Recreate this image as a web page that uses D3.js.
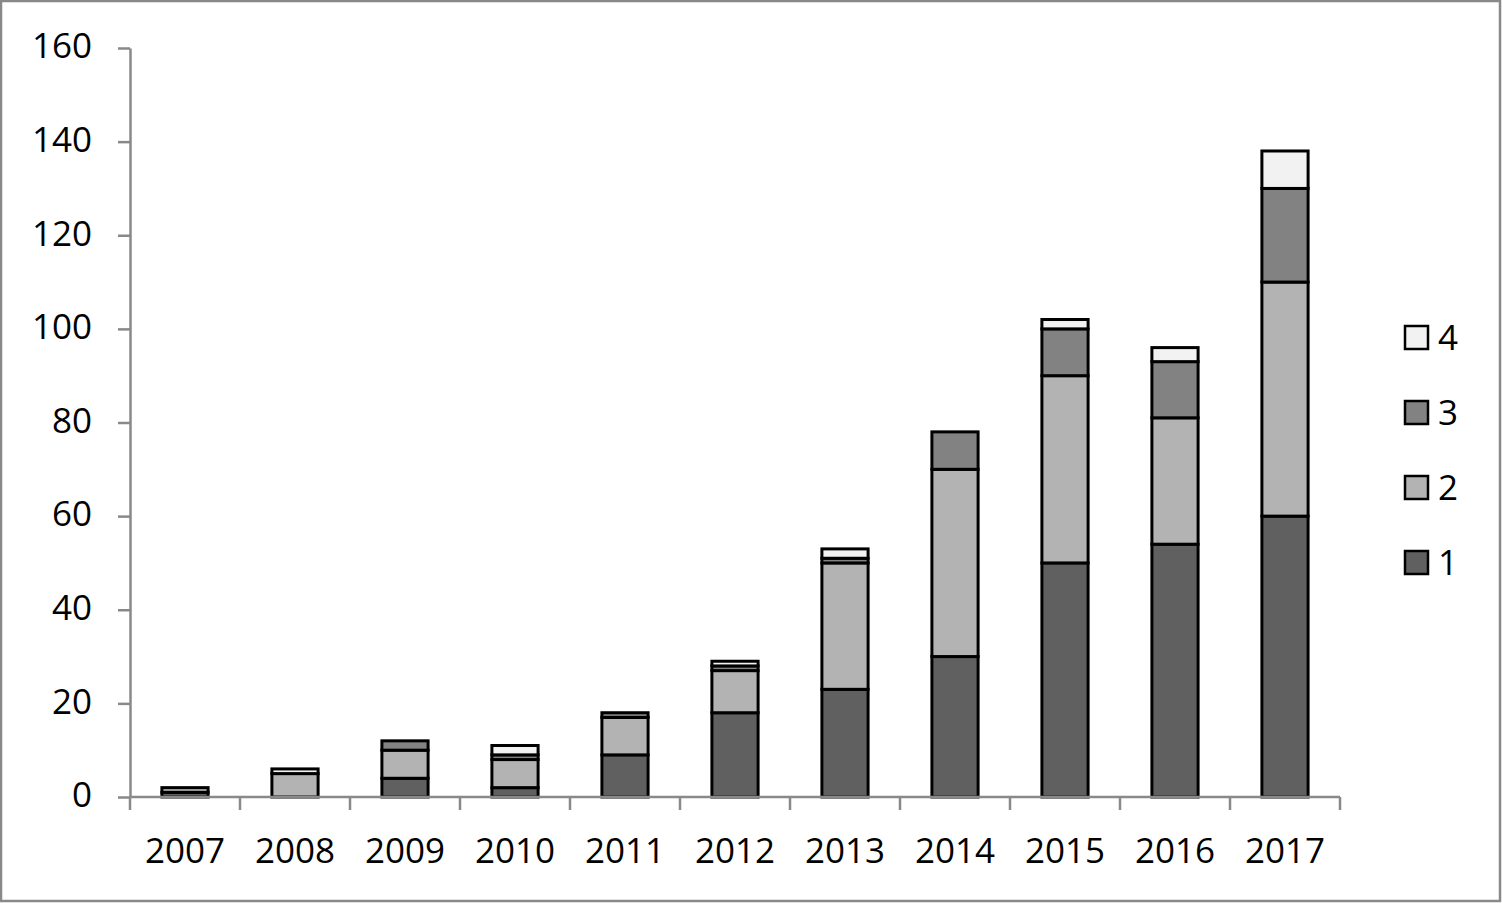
<!DOCTYPE html>
<html><head><meta charset="utf-8">
<script src="https://cdn.jsdelivr.net/npm/d3@7/dist/d3.min.js"></script>
<style>html,body{margin:0;padding:0;background:#fff;}svg{display:block;}</style>
</head><body>
<svg id="c" width="1502" height="903"></svg>
<script>
const years = ["2007","2008","2009","2010","2011","2012","2013","2014","2015","2016","2017"];
const seriesNames = ["1","2","3","4"];
const s1 = [1, 0, 4, 2, 9, 18, 23, 30, 50, 54, 60];
const s2 = [1, 5, 6, 6, 8, 9, 27, 40, 40, 27, 50];
const s3 = [0, 0, 2, 1, 1, 1, 1, 8, 10, 12, 20];
const s4 = [0, 1, 0, 2, 0, 1, 2, 0, 2, 3, 8];
const yTicks = [0, 20, 40, 60, 80, 100, 120, 140, 160];
const colors = ["#606060", "#b3b3b3", "#828282", "#f2f2f2"];

const rows = years.map((y, i) => ({year: y, "1": s1[i], "2": s2[i], "3": s3[i], "4": s4[i]}));
const stack = d3.stack().keys(seriesNames)(rows);

const svg = d3.select("#c");
const font = "'Open Sans', 'Noto Sans', sans-serif";
const axisColor = "#898989";

// outer border
svg.append("rect").attr("x", 1).attr("y", 1).attr("width", 1499).attr("height", 900)
  .attr("fill", "none").attr("stroke", axisColor).attr("stroke-width", 2.5);

const x = d3.scaleBand().domain(years).range([130, 1340]).paddingInner(0.58).paddingOuter(0.29);
const y = d3.scaleLinear().domain([0, 160]).range([797, 48]);

// bars
svg.append("g").selectAll("g").data(stack).join("g")
  .attr("fill", (d, i) => colors[i])
  .selectAll("rect").data(d => d.filter(v => v[1] - v[0] > 0)).join("rect")
  .attr("x", d => x(d.data.year))
  .attr("width", x.bandwidth())
  .attr("y", d => y(d[1]))
  .attr("height", d => y(d[0]) - y(d[1]))
  .attr("stroke", "#000").attr("stroke-width", 3);

// y axis
const ya = svg.append("g").attr("transform", "translate(130,0)")
  .call(d3.axisLeft(y).tickValues(yTicks).tickSize(12).tickPadding(26).tickSizeOuter(0));
ya.select(".domain").attr("stroke", axisColor).attr("stroke-width", 2.5);
ya.selectAll(".tick line").attr("stroke", axisColor).attr("stroke-width", 2.5);
ya.selectAll(".tick text").attr("font-family", font).attr("font-size", 35).attr("fill", "#000").attr("dy", "0.28em");

// x axis
const xTickScale = d3.scalePoint().domain(d3.range(years.length + 1)).range([130, 1340]);
const xa = svg.append("g").attr("transform", "translate(0,797)");
xa.append("line").attr("x1", 130).attr("x2", 1340).attr("stroke", axisColor).attr("stroke-width", 2.5);
xa.selectAll(".xt").data(xTickScale.domain()).join("line").attr("class", "xt")
  .attr("x1", d => xTickScale(d)).attr("x2", d => xTickScale(d))
  .attr("y1", 0).attr("y2", 13).attr("stroke", axisColor).attr("stroke-width", 2.5);
xa.selectAll(".xl").data(years).join("text").attr("class", "xl")
  .attr("x", d => x(d) + x.bandwidth() / 2).attr("y", 66)
  .attr("text-anchor", "middle").attr("font-family", font).attr("font-size", 35).attr("fill", "#000")
  .text(d => d);

// legend
const legendItems = seriesNames.map((n, i) => ({name: n, color: colors[i]})).reverse();
const lg = svg.append("g").selectAll("g").data(legendItems).join("g")
  .attr("transform", (d, i) => `translate(1405,${326 + i * 75})`);
lg.append("rect").attr("width", 23).attr("height", 23).attr("fill", d => d.color)
  .attr("stroke", "#000").attr("stroke-width", 2.5);
lg.append("text").attr("x", 33).attr("y", 11.5).attr("dy", "0.36em")
  .attr("font-family", font).attr("font-size", 35).attr("fill", "#000").text(d => d.name);
</script>
</body></html>
